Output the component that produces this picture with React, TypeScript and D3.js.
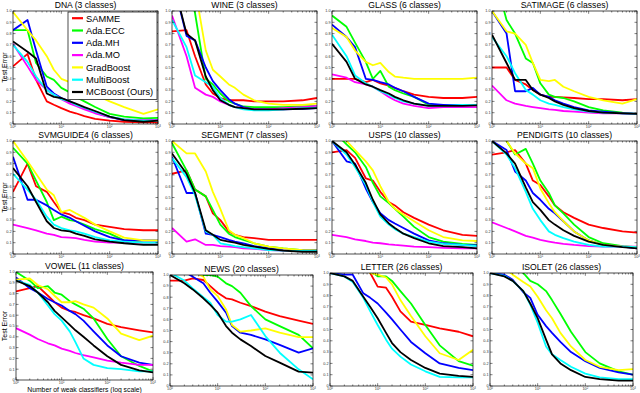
import React from 'react';
import * as d3 from 'd3';

// number of weak classifiers where the curves were read
const XS = [1, 2, 3, 5, 7, 10, 15, 20, 30, 50, 100, 200, 500, 1000];

const SERIES = ['SAMME', 'Ada.ECC', 'Ada.MH', 'Ada.MO', 'GradBoost', 'MultiBoost', 'MCBoost (Ours)'];
const COLORS = ['#ff0000', '#00ff00', '#0000ff', '#ff00ff', '#ffff00', '#00ffff', '#000000'];

// test error per series, same order as SERIES (null = not run)
const dna = [
  [0.51, 0.62, 0.39, 0.2, 0.17, 0.14, 0.11, 0.095, 0.07, 0.045, 0.03, 0.02, 0.015, 0.015],
  [0.83, 0.83, 0.54, 0.42, 0.39, 0.32, 0.28, 0.24, 0.2, 0.15, 0.09, 0.065, 0.05, 0.055],
  [0.83, 0.92, 0.65, 0.33, 0.27, 0.23, 0.2, 0.17, 0.14, 0.1, 0.06, 0.035, 0.03, 0.035],
  [0.71, 0.51, 0.39, 0.3, 0.26, 0.22, 0.18, 0.16, 0.13, 0.095, 0.06, 0.04, 0.035, 0.035],
  [0.99, 0.83, 0.74, 0.6, 0.48, 0.4, 0.37, 0.35, 0.3, 0.26, 0.2, 0.15, 0.09, 0.13],
  [0.7, 0.55, 0.42, 0.3, 0.26, 0.22, 0.2, 0.17, 0.145, 0.11, 0.065, 0.04, 0.03, 0.03],
  [0.73, 0.64, 0.58, 0.27, 0.24, 0.23, 0.2, 0.18, 0.15, 0.115, 0.065, 0.035, 0.02, 0.03],
];
const wine = [
  [0.82, 0.83, 0.6, 0.35, 0.27, 0.23, 0.21, 0.21, 0.21, 0.2, 0.2, 0.2, 0.21, 0.23],
  [1.6, 1.3, 0.98, 0.4, 0.35, 0.27, 0.2, 0.18, 0.155, 0.15, 0.15, 0.15, 0.155, 0.16],
  [1.3, 0.78, 0.74, 0.5, 0.38, 0.3, 0.22, 0.18, 0.15, 0.13, 0.13, 0.13, 0.135, 0.14],
  [0.96, 0.6, 0.32, 0.26, 0.24, 0.2, 0.17, 0.15, 0.14, 0.13, 0.13, 0.14, 0.15, 0.16],
  [1.8, 1.5, 1.2, 0.65, 0.48, 0.42, 0.35, 0.32, 0.26, 0.21, 0.18, 0.17, 0.17, 0.18],
  [0.92, 0.68, 0.43, 0.37, 0.33, 0.23, 0.17, 0.15, 0.13, 0.12, 0.12, 0.13, 0.14, 0.145],
  [1.3, 0.8, 0.74, 0.42, 0.3, 0.21, 0.17, 0.15, 0.14, 0.13, 0.13, 0.13, 0.135, 0.14],
];
const glass = [
  [0.4, 0.4, 0.4, 0.37, 0.39, 0.36, 0.34, 0.32, 0.29, 0.26, 0.24, 0.23, 0.23, 0.24],
  [0.96, 0.86, 0.72, 0.55, 0.4, 0.47, 0.33, 0.3, 0.27, 0.24, 0.17, 0.17, 0.17, 0.17],
  [0.88, 0.77, 0.68, 0.4, 0.39, 0.37, 0.35, 0.32, 0.29, 0.24, 0.18, 0.17, 0.17, 0.17],
  [0.44, 0.41, 0.37, 0.35, 0.33, 0.29, 0.24, 0.21, 0.18, 0.16, 0.14, 0.15, 0.15, 0.15],
  [0.85, 0.77, 0.65, 0.55, 0.52, 0.54, 0.46, 0.42, 0.41, 0.4, 0.4, 0.4, 0.4, 0.41],
  [0.79, 0.6, 0.43, 0.36, 0.33, 0.29, 0.26, 0.23, 0.2, 0.18, 0.16, 0.16, 0.17, 0.17],
  [0.71, 0.55, 0.4, 0.35, 0.33, 0.3, 0.27, 0.24, 0.21, 0.18, 0.16, 0.16, 0.16, 0.165],
];
const satimage = [
  [0.5, 0.5, 0.39, 0.35, 0.3, 0.26, 0.24, 0.24, 0.235, 0.23, 0.22, 0.22, 0.21, 0.22],
  [1.4, 0.92, 0.8, 0.58, 0.54, 0.36, 0.26, 0.24, 0.23, 0.2, 0.15, 0.12, 0.1, 0.09],
  [1.0, 0.8, 0.29, 0.29, 0.32, 0.26, 0.24, 0.21, 0.18, 0.15, 0.12, 0.11, 0.095, 0.09],
  [0.34, 0.21, 0.18, 0.16, 0.15, 0.14, 0.13, 0.125, 0.115, 0.11, 0.1, 0.095, 0.095, 0.09],
  [1.0, 0.82, 0.8, 0.7, 0.54, 0.39, 0.38, 0.39, 0.33, 0.29, 0.24, 0.21, 0.18, 0.22],
  [0.77, 0.6, 0.45, 0.3, 0.26, 0.21, 0.18, 0.17, 0.15, 0.13, 0.11, 0.1, 0.095, 0.09],
  [0.79, 0.54, 0.39, 0.39, 0.3, 0.26, 0.23, 0.2, 0.17, 0.14, 0.115, 0.1, 0.095, 0.09],
];
const svmguide4 = [
  [0.55, 0.8, 0.6, 0.55, 0.46, 0.37, 0.35, 0.32, 0.3, 0.26, 0.24, 0.22, 0.21, 0.21],
  [0.94, 0.8, 0.65, 0.46, 0.3, 0.33, 0.3, 0.29, 0.26, 0.22, 0.18, 0.12, 0.1, 0.1],
  [0.86, 0.48, 0.48, 0.43, 0.39, 0.35, 0.32, 0.29, 0.25, 0.2, 0.15, 0.12, 0.12, 0.12],
  [0.26, 0.23, 0.21, 0.18, 0.17, 0.15, 0.145, 0.14, 0.125, 0.11, 0.1, 0.1, 0.1, 0.1],
  [1.0, 0.82, 0.71, 0.57, 0.52, 0.37, 0.39, 0.36, 0.32, 0.26, 0.2, 0.145, 0.12, 0.12],
  [0.71, 0.57, 0.48, 0.33, 0.26, 0.23, 0.21, 0.2, 0.18, 0.15, 0.12, 0.11, 0.1, 0.1],
  [0.76, 0.6, 0.46, 0.29, 0.23, 0.21, 0.2, 0.18, 0.16, 0.13, 0.11, 0.095, 0.08, 0.08],
];
const segment = [
  [0.71, 0.74, 0.57, 0.51, 0.36, 0.3, 0.2, 0.17, 0.15, 0.14, 0.125, 0.125, 0.125, 0.125],
  [0.98, 0.74, 0.57, 0.51, 0.39, 0.26, 0.18, 0.15, 0.125, 0.095, 0.065, 0.05, 0.035, 0.035],
  [0.86, 0.54, 0.54, 0.18, 0.17, 0.15, 0.125, 0.11, 0.095, 0.07, 0.05, 0.035, 0.03, 0.03],
  [0.23, 0.11, 0.13, 0.08, 0.08, 0.07, 0.065, 0.06, 0.05, 0.045, 0.035, 0.03, 0.03, 0.03],
  [1.0, 0.89, 0.89, 0.73, 0.55, 0.4, 0.21, 0.17, 0.14, 0.095, 0.065, 0.05, 0.035, 0.03],
  [0.85, 0.68, 0.52, 0.2, 0.17, 0.095, 0.08, 0.07, 0.06, 0.05, 0.035, 0.03, 0.028, 0.028],
  [0.89, 0.71, 0.54, 0.21, 0.17, 0.125, 0.11, 0.1, 0.08, 0.065, 0.045, 0.03, 0.02, 0.02],
];
const usps = [
  [0.9, 0.92, 0.85, 0.67, 0.65, 0.55, 0.46, 0.43, 0.37, 0.32, 0.26, 0.21, 0.17, 0.16],
  [1.1, 0.97, 0.9, 0.77, 0.63, 0.51, 0.45, 0.4, 0.33, 0.24, 0.15, 0.11, 0.09, 0.08],
  [1.0, 0.82, 0.8, 0.58, 0.46, 0.36, 0.3, 0.27, 0.23, 0.18, 0.12, 0.095, 0.08, 0.075],
  [0.17, 0.15, 0.13, 0.115, 0.1, 0.095, 0.085, 0.08, 0.075, 0.065, 0.06, 0.055, 0.05, 0.05],
  [1.3, 1.0, 0.92, 0.82, 0.74, 0.6, 0.46, 0.4, 0.35, 0.29, 0.21, 0.15, 0.12, 0.115],
  [1.0, 0.88, 0.77, 0.61, 0.46, 0.33, 0.26, 0.22, 0.18, 0.15, 0.11, 0.09, 0.08, 0.07],
  [1.0, 0.9, 0.79, 0.63, 0.48, 0.35, 0.27, 0.23, 0.18, 0.14, 0.095, 0.07, 0.06, 0.05],
];
const pendigits = [
  [0.88, 0.9, 0.92, 0.8, 0.65, 0.61, 0.51, 0.43, 0.37, 0.32, 0.26, 0.23, 0.2, 0.19],
  [1.2, 1.0, 0.88, 0.93, 0.8, 0.65, 0.54, 0.43, 0.36, 0.26, 0.15, 0.095, 0.07, 0.06],
  [1.0, 0.92, 0.73, 0.65, 0.54, 0.48, 0.4, 0.36, 0.29, 0.2, 0.12, 0.08, 0.065, 0.05],
  [0.28, 0.23, 0.2, 0.16, 0.145, 0.125, 0.11, 0.1, 0.09, 0.08, 0.07, 0.065, 0.065, 0.065],
  [1.2, 1.0, 0.89, 0.8, 0.76, 0.58, 0.45, 0.37, 0.29, 0.2, 0.12, 0.08, 0.065, 0.06],
  [1.0, 0.88, 0.76, 0.55, 0.4, 0.3, 0.2, 0.17, 0.14, 0.11, 0.08, 0.065, 0.065, 0.06],
  [1.0, 0.89, 0.8, 0.59, 0.46, 0.39, 0.3, 0.26, 0.21, 0.16, 0.11, 0.08, 0.06, 0.05],
];
const vowel = [
  [0.82, 0.85, 0.87, 0.78, 0.72, 0.67, 0.64, 0.63, 0.6, 0.57, 0.52, 0.49, 0.46, 0.44],
  [1.0, 0.92, 0.85, 0.87, 0.81, 0.79, 0.73, 0.7, 0.66, 0.57, 0.38, 0.22, 0.13, 0.08],
  [0.95, 0.85, 0.81, 0.75, 0.72, 0.69, 0.64, 0.61, 0.55, 0.45, 0.32, 0.22, 0.16, 0.14],
  [0.48, 0.42, 0.38, 0.34, 0.32, 0.29, 0.27, 0.25, 0.23, 0.21, 0.18, 0.16, 0.14, 0.14],
  [0.93, 0.94, 0.88, 0.84, 0.78, 0.72, 0.72, 0.73, 0.7, 0.67, 0.57, 0.43, 0.37, 0.41],
  [0.92, 0.88, 0.81, 0.69, 0.61, 0.55, 0.45, 0.35, 0.2, 0.14, 0.11, 0.1, 0.08, 0.08],
  [0.92, 0.87, 0.81, 0.72, 0.64, 0.58, 0.51, 0.46, 0.4, 0.32, 0.22, 0.14, 0.09, 0.07],
];
const news = [
  [0.95, 0.95, 0.97, 0.955, 0.9, 0.84, 0.79, 0.78, 0.75, 0.72, 0.67, 0.63, 0.59, 0.56],
  [1.15, 1.1, 1.05, 1.0, 1.0, 0.985, 0.925, 0.9, 0.84, 0.72, 0.6, 0.54, 0.46, 0.34],
  [1.1, 1.03, 0.985, 0.925, 0.84, 0.76, 0.66, 0.54, 0.48, 0.46, 0.42, 0.37, 0.3, 0.34],
  null,
  [1.2, 1.1, 1.03, 0.985, 0.87, 0.81, 0.69, 0.55, 0.49, 0.5, 0.52, 0.48, 0.44, 0.44],
  [1.02, 0.95, 0.88, 0.8, 0.75, 0.64, 0.58, 0.58, 0.6, 0.64, 0.45, 0.3, 0.15, 0.06],
  [1.0, 0.925, 0.87, 0.79, 0.73, 0.66, 0.54, 0.48, 0.42, 0.36, 0.27, 0.21, 0.13, 0.12],
];
const letter = [
  [1.3, 1.2, 1.15, 1.05, 1.0, 0.88, 0.87, 0.79, 0.66, 0.57, 0.54, 0.51, 0.48, 0.44],
  [1.3, 1.25, 1.2, 1.1, 1.02, 0.97, 0.97, 0.93, 0.84, 0.73, 0.54, 0.36, 0.22, 0.18],
  [1.0, 0.985, 0.985, 0.82, 0.78, 0.73, 0.65, 0.59, 0.5, 0.39, 0.29, 0.2, 0.16, 0.14],
  null,
  [1.3, 1.2, 1.12, 1.05, 1.0, 0.985, 0.96, 0.9, 0.76, 0.62, 0.44, 0.29, 0.23, 0.32],
  [1.0, 0.97, 0.92, 0.78, 0.66, 0.54, 0.41, 0.33, 0.26, 0.19, 0.13, 0.08, 0.077, 0.077],
  [1.0, 0.97, 0.93, 0.79, 0.7, 0.6, 0.47, 0.38, 0.3, 0.23, 0.16, 0.11, 0.09, 0.08],
];
const isolet = [
  null,
  [1.2, 1.12, 1.05, 1.0, 0.93, 0.9, 0.84, 0.76, 0.64, 0.48, 0.3, 0.2, 0.13, 0.1],
  [1.0, 0.985, 0.94, 0.83, 0.78, 0.63, 0.53, 0.47, 0.39, 0.3, 0.22, 0.16, 0.12, 0.1],
  null,
  [1.1, 1.05, 0.985, 0.92, 0.88, 0.79, 0.67, 0.6, 0.47, 0.35, 0.23, 0.17, 0.14, 0.15],
  [1.0, 0.975, 0.93, 0.84, 0.72, 0.56, 0.35, 0.28, 0.23, 0.17, 0.11, 0.077, 0.06, 0.06],
  [1.0, 0.97, 0.93, 0.84, 0.73, 0.6, 0.41, 0.28, 0.2, 0.14, 0.08, 0.06, 0.047, 0.047],
];

// layout: [left, top, right, bottom] of each axes box
const PANELS = [
  { title: 'DNA (3 classes)', data: dna, box: [13, 11, 158, 124], yLabel: true, legend: true },
  { title: 'WINE (3 classes)', data: wine, box: [172, 11, 317, 124] },
  { title: 'GLASS (6 classes)', data: glass, box: [332, 11, 477, 124] },
  { title: 'SATIMAGE (6 classes)', data: satimage, box: [492, 11, 637, 124] },
  { title: 'SVMGUIDE4 (6 classes)', data: svmguide4, box: [13, 141, 158, 254], yLabel: true },
  { title: 'SEGMENT (7 classes)', data: segment, box: [172, 141, 317, 254] },
  { title: 'USPS (10 classes)', data: usps, box: [332, 141, 477, 254] },
  { title: 'PENDIGITS (10 classes)', data: pendigits, box: [492, 141, 637, 254] },
  { title: 'VOWEL (11 classes)', data: vowel, box: [16, 272, 153, 380], yLabel: true, xLabel: true },
  { title: 'NEWS (20 classes)', data: news, box: [170, 275, 313, 386] },
  { title: 'LETTER (26 classes)', data: letter, box: [330, 273, 473, 386] },
  { title: 'ISOLET (26 classes)', data: isolet, box: [490, 273, 633, 386] },
];

const FONT = 'Arial, "Liberation Sans", Helvetica, sans-serif';

function Panel({ p, idx }) {
  const [x0, y0, x1, y1] = p.box;
  const x = d3.scaleLog().domain([1, 1000]).range([x0, x1]);
  const y = d3.scaleLinear().domain([0, 1]).range([y1, y0]);
  const line = d3.line<number>().x((_, i) => x(XS[i])).y(d => y(d));
  const yTicks = y.ticks(10);
  const xTicks = x.ticks();
  const majors = [1, 10, 100, 1000];
  const clipId = `clip-${idx}`;

  return (
    <g>
      <defs>
        <clipPath id={clipId}>
          <rect x={x0} y={y0} width={x1 - x0} height={y1 - y0} />
        </clipPath>
      </defs>
      <rect x={x0} y={y0} width={x1 - x0} height={y1 - y0} fill="#fff" />
      <g clipPath={`url(#${clipId})`}>
        {p.data.map((s, i) => s && (
          <path key={i} d={line(s)} fill="none" stroke={COLORS[i]} strokeWidth={1.8} strokeLinejoin="round" />
        ))}
      </g>
      <rect x={x0} y={y0} width={x1 - x0} height={y1 - y0} fill="none" stroke="#000" strokeWidth={0.7} />
      {/* y ticks, both sides */}
      {yTicks.map(t => (
        <g key={`y${t}`}>
          <line x1={x0} x2={x0 + 2.5} y1={y(t)} y2={y(t)} stroke="#000" strokeWidth={0.5} />
          <line x1={x1} x2={x1 - 2.5} y1={y(t)} y2={y(t)} stroke="#000" strokeWidth={0.5} />
          <text x={x0 - 1.5} y={y(t) + 1.3} fontSize={3.8} textAnchor="end" fill="#333" fontFamily={FONT}>
            {t === 0 ? '0' : t.toFixed(1)}
          </text>
        </g>
      ))}
      {/* x ticks on the log axis, top and bottom */}
      {xTicks.map(t => {
        const len = majors.includes(t) ? 2.8 : 1.5;
        return (
          <g key={`x${t}`}>
            <line x1={x(t)} x2={x(t)} y1={y1} y2={y1 - len} stroke="#000" strokeWidth={0.5} />
            <line x1={x(t)} x2={x(t)} y1={y0} y2={y0 + len} stroke="#000" strokeWidth={0.5} />
          </g>
        );
      })}
      {majors.map((t, i) => (
        <text key={`xl${t}`} x={x(t)} y={y1 + 4.3} fontSize={3.8} textAnchor="middle" fill="#333" fontFamily={FONT}>
          10<tspan fontSize={2.8} dy={-1.3}>{i}</tspan>
        </text>
      ))}
      <text x={(x0 + x1) / 2} y={y0 - 2.7} fontSize={8.6} textAnchor="middle" fontFamily={FONT}>
        {p.title}
      </text>
      {p.yLabel && (
        <text transform={`translate(6.5,${(y0 + y1) / 2}) rotate(-90)`} fontSize={7} textAnchor="middle" fontFamily={FONT}>
          Test Error
        </text>
      )}
      {p.xLabel && (
        <text x={(x0 + x1) / 2} y={391.5} fontSize={6.8} textAnchor="middle" fontFamily={FONT}>
          Number of weak classifiers (log scale)
        </text>
      )}
      {p.legend && <Legend left={68} top={12} />}
    </g>
  );
}

function Legend({ left, top }) {
  const rowH = 12.3;
  const w = 89;
  const h = rowH * SERIES.length + 1.5;
  return (
    <g>
      <rect x={left} y={top} width={w} height={h} fill="#fff" stroke="#000" strokeWidth={0.7} />
      {SERIES.map((s, i) => {
        const cy = top + 6.2 + i * rowH;
        return (
          <g key={s}>
            <line x1={left + 4} x2={left + 15} y1={cy} y2={cy} stroke={COLORS[i]} strokeWidth={2.2} />
            <text x={left + 18} y={cy + 3.3} fontSize={9.3} fontFamily={FONT}>{s}</text>
          </g>
        );
      })}
    </g>
  );
}

export default function App() {
  return (
    <svg width={640} height={393} style={{ position: 'absolute', left: 0, top: 0, background: '#fff' }}>
      {PANELS.map((p, i) => <Panel key={p.title} p={p} idx={i} />)}
    </svg>
  );
}
